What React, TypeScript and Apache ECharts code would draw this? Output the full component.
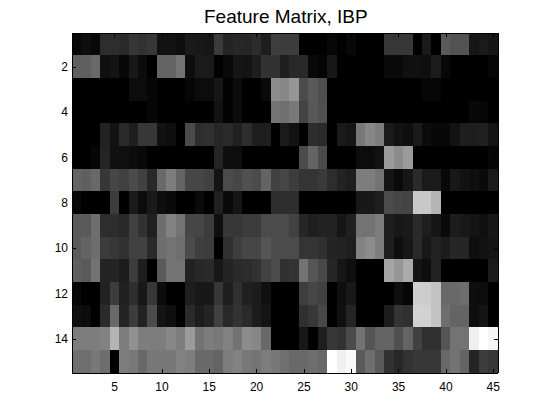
import React, { useEffect, useRef } from "react";
import * as echarts from "echarts";

const columns = Array.from({ length: 45 }, (_, i) => String(i + 1));
const rowNames = Array.from({ length: 15 }, (_, i) => String(i + 1));

const row1 = [8,14,8,45,45,42,55,50,55,18,18,14,26,24,22,58,36,40,38,44,30,62,60,60,0,0,0,8,0,8,0,0,0,55,55,55,0,26,0,90,82,82,22,26,22];
const row2 = [95,95,105,16,20,8,24,12,0,100,100,115,14,26,26,0,10,22,20,30,50,50,30,40,40,8,4,24,0,0,0,0,0,10,10,16,16,14,28,8,0,0,0,0,6];
const row3 = [0,0,0,0,0,0,12,12,6,0,0,0,6,12,12,22,2,12,0,0,10,140,135,150,75,90,78,0,0,0,0,0,0,0,0,0,0,6,6,0,0,0,0,0,0];
const row4 = [0,0,0,0,0,0,0,0,6,0,0,0,0,0,0,18,2,12,0,0,0,115,112,120,68,88,80,0,0,0,0,0,0,0,0,0,0,0,0,0,0,0,8,6,0];
const row5 = [0,0,0,34,18,42,30,55,55,18,14,0,75,45,48,38,42,32,45,30,30,0,26,18,0,45,42,0,26,22,120,135,125,26,18,14,26,12,8,8,18,30,30,32,20];
const row6 = [0,0,6,36,16,16,12,8,0,0,0,0,0,0,0,36,14,14,0,0,0,0,0,0,75,100,75,0,0,0,12,12,18,155,140,155,0,0,0,0,0,0,0,0,6];
const row7 = [100,95,105,55,70,65,75,65,40,105,125,100,70,70,65,20,75,70,80,75,100,65,70,60,52,52,58,45,34,30,125,125,115,20,10,22,42,26,26,8,24,18,14,10,26];
const row8 = [8,0,0,0,60,0,26,12,26,14,10,0,0,10,0,32,10,22,0,0,0,45,45,45,0,0,0,0,0,0,24,24,30,75,70,68,200,200,180,0,0,0,0,0,0];
const row9 = [90,90,110,45,45,40,65,50,32,110,130,115,70,70,60,15,55,55,60,60,75,75,75,65,38,30,34,34,22,32,115,115,125,30,24,26,42,30,22,10,28,24,20,16,24];
const row10 = [90,100,110,60,55,50,65,65,42,110,115,110,75,62,60,0,48,62,70,70,85,75,75,75,52,52,48,36,34,30,130,140,125,30,14,24,42,24,34,28,38,38,14,18,20];
const row11 = [95,90,115,36,36,28,60,30,0,90,115,115,34,40,42,24,36,42,44,50,65,75,48,52,115,85,72,38,22,14,0,0,0,165,150,170,20,14,34,0,0,0,0,0,26];
const row12 = [8,0,0,34,60,32,45,24,55,12,0,0,30,24,24,55,30,48,32,28,16,0,0,0,62,70,65,0,14,24,0,0,0,0,14,6,205,205,195,105,105,110,14,12,0];
const row13 = [16,12,0,42,105,36,60,34,75,20,14,0,42,28,36,65,40,50,42,28,20,0,0,0,48,56,72,0,16,36,0,0,0,28,52,48,210,210,195,110,100,100,14,20,0];
const row14 = [125,125,125,130,180,125,145,125,125,125,135,125,155,115,125,120,130,115,140,135,105,0,0,0,24,0,30,55,50,75,115,85,100,100,80,100,65,48,48,85,115,115,240,255,245];
const row15 = [110,110,120,110,0,125,120,105,120,120,120,130,125,105,105,100,125,130,120,115,125,120,112,105,105,110,105,255,240,250,90,110,90,50,40,50,55,55,55,105,115,100,36,60,55];

const rows = [row1,row2,row3,row4,row5,row6,row7,row8,row9,row10,row11,row12,row13,row14,row15];
const cells = rows.flatMap((r, y) => r.map((v, x) => [x, y, v]));

const FONT = "Liberation Sans";
const everyFifth = (i: number) => (i + 1) % 5 === 0;
const everySecond = (i: number) => (i + 1) % 2 === 0;

export default function App() {
  const ref = useRef<HTMLDivElement>(null);
  useEffect(() => {
    document.body.style.margin = "0";
    const chart = echarts.init(ref.current!, null, { renderer: "svg" });
    const line = { show: true, lineStyle: { color: "#000", width: 1 } };
    const xBase = {
      type: "category" as const,
      data: columns,
      z: 5,
      axisLine: line,
      axisTick: { show: true, inside: true, length: 4, alignWithLabel: true, interval: everyFifth as any, lineStyle: { color: "#000" } },
      splitLine: { show: false },
    };
    const yBase = {
      type: "category" as const,
      data: rowNames,
      inverse: true,
      z: 5,
      axisLine: line,
      axisTick: { show: true, inside: true, length: 4, alignWithLabel: true, interval: everySecond as any, lineStyle: { color: "#000" } },
      splitLine: { show: false },
    };
    chart.setOption({
      animation: false,
      backgroundColor: "#fff",
      title: {
        text: "Feature Matrix, IBP",
        left: 204,
        top: 7,
        padding: 0,
        textStyle: { fontFamily: FONT, fontSize: 19, fontWeight: "normal", color: "#000" },
      },
      grid: { left: 72, top: 33, width: 426, height: 340 },
      xAxis: [
        {
          ...xBase,
          position: "bottom",
          axisLabel: { show: true, interval: everyFifth as any, fontFamily: FONT, fontSize: 12, color: "#000", margin: 8 },
        },
        { ...xBase, position: "top", axisLabel: { show: false } },
      ],
      yAxis: [
        {
          ...yBase,
          position: "left",
          axisLabel: { show: true, interval: everySecond as any, fontFamily: FONT, fontSize: 12, color: "#000", margin: 4 },
        },
        { ...yBase, position: "right", axisLabel: { show: false } },
      ],
      visualMap: { show: false, min: 0, max: 255, dimension: 2, inRange: { color: ["#000000", "#ffffff"] } },
      series: [
        {
          type: "heatmap",
          data: cells,
          xAxisIndex: 0,
          yAxisIndex: 0,
          itemStyle: { borderWidth: 0 },
          emphasis: { disabled: true },
          progressive: 0,
        },
      ],
    });
    const svg = ref.current!.querySelector("svg");
    if (svg) (svg as any).style.shapeRendering = "crispEdges";
    return () => chart.dispose();
  }, []);
  return <div ref={ref} style={{ width: 550, height: 418 }} />;
}
